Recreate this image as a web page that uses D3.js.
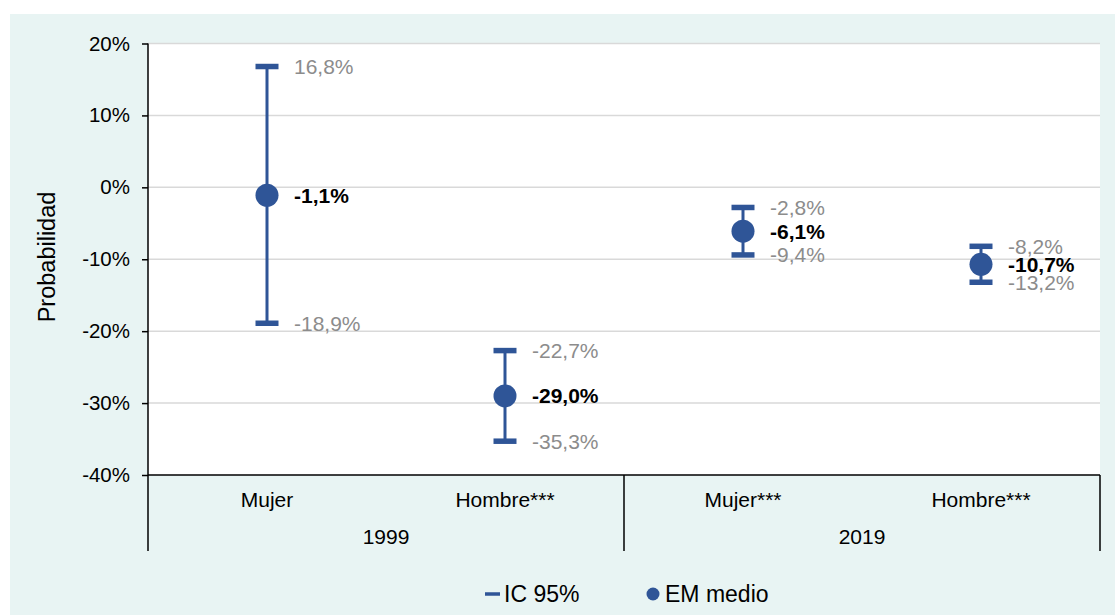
<!DOCTYPE html>
<html>
<head>
<meta charset="utf-8">
<script src="https://cdn.jsdelivr.net/npm/d3@7"></script>
<style>
  html, body { margin: 0; padding: 0; background: #ffffff; }
  svg { display: block; font-family: "Liberation Sans", Arial, sans-serif; }
</style>
</head>
<body>
<svg id="chart" width="1115" height="615"></svg>
<script>
// Marginal effects with 95% confidence intervals, by sex and year
const categories = ["Mujer", "Hombre***", "Mujer***", "Hombre***"];
const categoryYear = ["1999", "1999", "2019", "2019"];
const years = ["1999", "2019"];
const meanValues = [-1.1, -29.0, -6.1, -10.7];
const lowerValues = [-18.9, -35.3, -9.4, -13.2];
const upperValues = [16.8, -22.7, -2.8, -8.2];
const yTicks = [20, 10, 0, -10, -20, -30, -40];

const blue = "#2f5597";
const svg = d3.select("#chart");
const W = 1115, H = 615;
const plot = { left: 148, right: 1100, top: 43.5, bottom: 475 };

const locale = d3.formatLocale({ decimal: ",", thousands: ".", grouping: [3], currency: ["", "€"], minus: "-" });
const fmt1 = v => locale.format(".1f")(v) + "%";
const fmt0 = v => locale.format(".0f")(v) + "%";

// panel background
svg.append("rect").attr("x", 10).attr("y", 14).attr("width", W - 10).attr("height", H - 14)
  .attr("fill", "#e8f4f3");
svg.append("rect").attr("x", plot.left).attr("y", plot.top)
  .attr("width", plot.right - plot.left).attr("height", plot.bottom - plot.top)
  .attr("fill", "#ffffff");

const x = d3.scaleBand().domain(d3.range(categories.length)).range([plot.left, plot.right]).padding(0);
const y = d3.scaleLinear().domain([-40, 20]).range([plot.bottom, plot.top]);

// gridlines
svg.append("g").selectAll("line").data(yTicks.filter(t => t !== -40)).join("line")
  .attr("x1", plot.left).attr("x2", plot.right)
  .attr("y1", d => y(d)).attr("y2", d => y(d))
  .attr("stroke", "#d9d9d9").attr("stroke-width", 1.5);

// y axis
const yAxis = d3.axisLeft(y).tickValues(yTicks).tickFormat(fmt0).tickSize(6).tickPadding(12);
const gy = svg.append("g").attr("transform", `translate(${plot.left},0)`).call(yAxis);
gy.select(".domain").remove();
gy.selectAll(".tick line").attr("stroke", "#000").attr("stroke-width", 1.5);
gy.selectAll(".tick text").attr("font-size", 20.5).attr("fill", "#000")
  .attr("font-family", "Liberation Sans, Arial, sans-serif");
svg.append("line").attr("x1", plot.left).attr("x2", plot.left)
  .attr("y1", plot.top).attr("y2", plot.bottom).attr("stroke", "#000").attr("stroke-width", 1.5);

// category axis
svg.append("line").attr("x1", plot.left).attr("x2", plot.right)
  .attr("y1", plot.bottom).attr("y2", plot.bottom).attr("stroke", "#000").attr("stroke-width", 1.5);

svg.append("g").selectAll("text").data(categories).join("text")
  .attr("x", (d, i) => x(i) + x.bandwidth() / 2)
  .attr("y", 507)
  .attr("text-anchor", "middle").attr("font-size", 21).attr("fill", "#000")
  .text(d => d);

// year groups
const groupBounds = years.map(yr => {
  const idx = d3.range(categories.length).filter(i => categoryYear[i] === yr);
  return { year: yr, x0: x(d3.min(idx)), x1: x(d3.max(idx)) + x.bandwidth() };
});
const sepX = Array.from(new Set(groupBounds.flatMap(g => [g.x0, g.x1])));
svg.append("g").selectAll("line").data(sepX).join("line")
  .attr("x1", d => d).attr("x2", d => d)
  .attr("y1", plot.bottom).attr("y2", 551)
  .attr("stroke", "#000").attr("stroke-width", 1.5);
svg.append("g").selectAll("text").data(groupBounds).join("text")
  .attr("x", d => (d.x0 + d.x1) / 2).attr("y", 544)
  .attr("text-anchor", "middle").attr("font-size", 21).attr("fill", "#000")
  .text(d => d.year);

// y axis title
svg.append("text")
  .attr("transform", `translate(55,257) rotate(-90)`)
  .attr("text-anchor", "middle").attr("font-size", 23.5).attr("fill", "#000")
  .text("Probabilidad");

// error bars
const rows = categories.map((c, i) => ({ i, mean: meanValues[i], lo: lowerValues[i], hi: upperValues[i] }));
const cx = d => x(d.i) + x.bandwidth() / 2;
const capW = 11.5;

const bars = svg.append("g");
bars.selectAll("line.stem").data(rows).join("line").attr("class", "stem")
  .attr("x1", cx).attr("x2", cx)
  .attr("y1", d => y(d.hi)).attr("y2", d => y(d.lo))
  .attr("stroke", blue).attr("stroke-width", 3);
bars.selectAll("line.caphi").data(rows).join("line").attr("class", "caphi")
  .attr("x1", d => cx(d) - capW).attr("x2", d => cx(d) + capW)
  .attr("y1", d => y(d.hi)).attr("y2", d => y(d.hi))
  .attr("stroke", blue).attr("stroke-width", 5.5);
bars.selectAll("line.caplo").data(rows).join("line").attr("class", "caplo")
  .attr("x1", d => cx(d) - capW).attr("x2", d => cx(d) + capW)
  .attr("y1", d => y(d.lo)).attr("y2", d => y(d.lo))
  .attr("stroke", blue).attr("stroke-width", 5.5);
bars.selectAll("circle").data(rows).join("circle")
  .attr("cx", cx).attr("cy", d => y(d.mean)).attr("r", 11.5)
  .attr("fill", blue);

// value labels
const labels = svg.append("g").attr("font-size", 21);
const labelDx = 27;
labels.selectAll("text.hi").data(rows).join("text").attr("class", "hi")
  .attr("x", d => cx(d) + labelDx).attr("y", d => y(d.hi)).attr("dy", "0.35em")
  .attr("fill", "#8c8c8c").text(d => fmt1(d.hi));
labels.selectAll("text.lo").data(rows).join("text").attr("class", "lo")
  .attr("x", d => cx(d) + labelDx).attr("y", d => y(d.lo)).attr("dy", "0.35em")
  .attr("fill", "#8c8c8c").text(d => fmt1(d.lo));
labels.selectAll("text.mean").data(rows).join("text").attr("class", "mean")
  .attr("x", d => cx(d) + labelDx).attr("y", d => y(d.mean)).attr("dy", "0.35em")
  .attr("fill", "#000").attr("font-weight", "bold").text(d => fmt1(d.mean));

// legend
const lg = svg.append("g").attr("font-size", 23).attr("fill", "#000");
lg.append("line").attr("x1", 485).attr("x2", 500).attr("y1", 594).attr("y2", 594)
  .attr("stroke", blue).attr("stroke-width", 3.5);
lg.append("text").attr("x", 504).attr("y", 594).attr("dy", "0.35em").text("IC 95%");
lg.append("circle").attr("cx", 653).attr("cy", 594).attr("r", 6.5).attr("fill", blue);
lg.append("text").attr("x", 665).attr("y", 594).attr("dy", "0.35em").text("EM medio");
</script>
</body>
</html>
